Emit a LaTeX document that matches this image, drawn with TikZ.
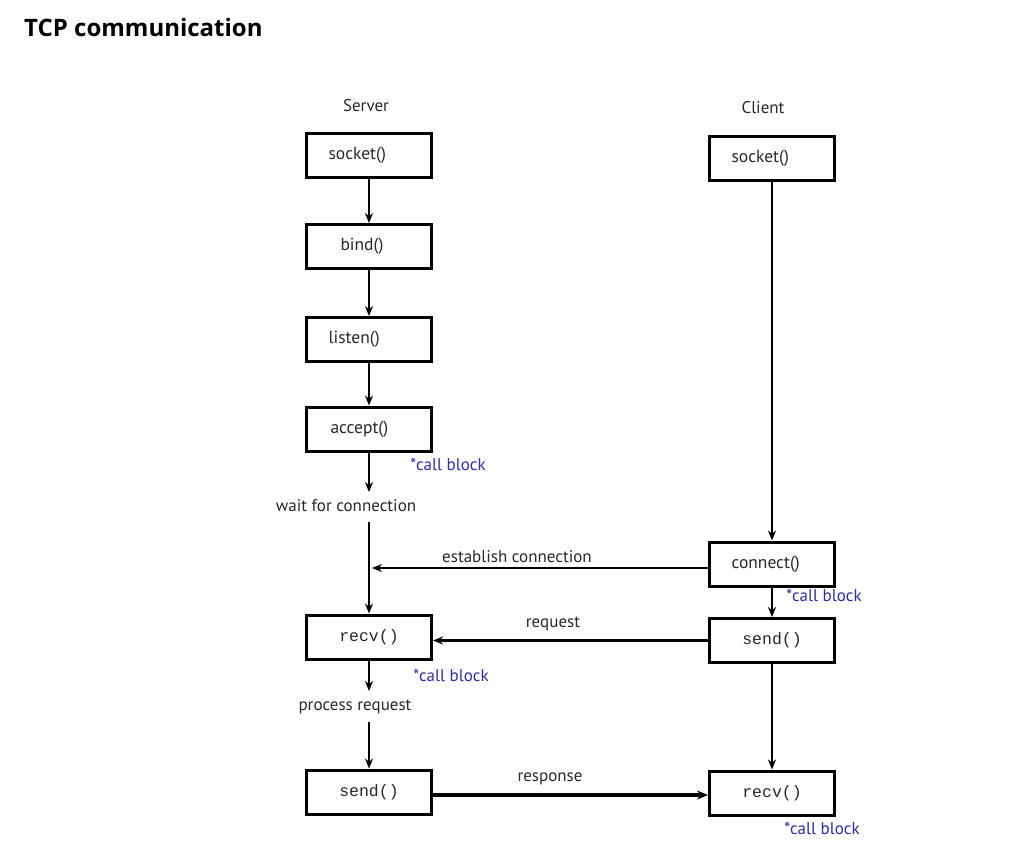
\documentclass[tikz,border=0pt]{standalone}
\usepackage{fontspec}
\setmainfont{PT Sans}
\newfontfamily\titlefont{Open Sans}
\setmonofont{Liberation Mono}
\usetikzlibrary{arrows.meta}
\definecolor{txt}{RGB}{40,40,40}
\definecolor{cb}{RGB}{45,45,165}
\tikzset{
  box/.style={draw=black, line width=3pt, minimum height=44pt, inner xsep=22pt, inner ysep=0pt,
              text width=81pt, align=left, font=\fontsize{17.5}{19}\selectfont, text=txt},
  mbox/.style={box, align=center, font=\ttfamily\fontsize{16.5}{18}\selectfont},
  flow/.style={line width=2.4pt, -{Stealth[length=10pt,width=8pt]}},
  lbl/.style={font=\fontsize{17}{19}\selectfont, text=txt, inner sep=0pt},
  blk/.style={font=\fontsize{17}{19}\selectfont, text=cb, inner sep=0pt},
}
\begin{document}
\begin{tikzpicture}[x=1pt,y=-1pt]
\useasboundingbox (0,0) rectangle (1010,863);
\node[anchor=west, inner sep=0pt, font=\titlefont\bfseries\fontsize{24}{27}\selectfont] (title) at (24,27) {TCP communication};

\node[lbl] (server) at (366,106) {Server};
\node[lbl] (client) at (763,108) {Client};

% server column
\node[box] (ssock) at (369,155.5) {socket()};
\node[box] (sbind) at (369,246.5) {\hspace*{12pt}bind()};
\node[box] (slisten) at (369,339.5) {listen()};
\node[box] (saccept) at (369,429) {\hspace*{2pt}accept()};
\node[lbl] (wait) at (346,506) {wait for connection};
\node[mbox] (srecv) at (369,637) {recv()};
\node[lbl] (proc) at (355,707) {process request};
\node[mbox] (ssend) at (369,792) {send()};

\coordinate (waittop) at (369,492);
\coordinate (waitbot) at (369,522);
\coordinate (proctop) at (369,691);
\coordinate (procbot) at (369,722);

\draw[flow] (ssock) -- (sbind);
\draw[flow] (sbind) -- (slisten);
\draw[flow] (slisten) -- (saccept);
\draw[flow] (saccept) -- (waittop);
\draw[flow] (waitbot) -- (srecv);
\draw[flow] (srecv) -- (proctop);
\draw[flow] (procbot) -- (ssend);

% client column
\node[box] (csock) at (772,158) {socket()};
\node[box] (cconn) at (772,564) {connect()};
\node[mbox] (csend) at (772,640.5) {send()};
\node[mbox] (crecv) at (772,793) {recv()};

\draw[flow] (csock) -- (cconn);
\draw[flow] (cconn) -- (csend);
\draw[flow] (csend) -- (crecv);

% messages
\coordinate (estend) at (372,568);
\draw[flow] ([yshift=-4pt]cconn.west) -- (estend);
\node[lbl] (estl) at (517,557) {establish connection};
\draw[flow] (csend.west) -- (csend.west -| srecv.east);
\node[lbl] (reql) at (553,624) {request};
\draw[line width=3.4pt, -{Stealth[length=11pt,width=9pt]}] ([yshift=-3pt]ssend.east) -- ([yshift=-3pt]ssend.east -| crecv.west);
\node[lbl] (resl) at (550,779) {response};

% call block notes
\node[blk] (cb1) at (448,465) {*call block};
\node[blk] (cb2) at (451,676) {*call block};
\node[blk] (cb3) at (824,596) {*call block};
\node[blk] (cb4) at (822,829) {*call block};
\end{tikzpicture}
\end{document}
